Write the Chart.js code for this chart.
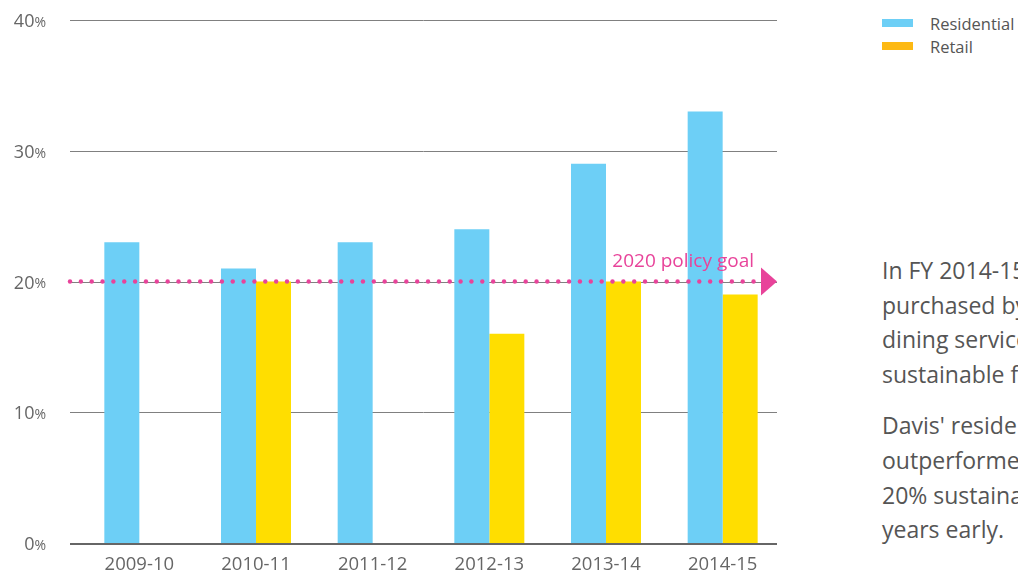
<!DOCTYPE html>
<html lang="en">
<head>
  <meta charset="utf-8" />
  <title>Sustainable food purchases</title>
  <script src="https://cdn.jsdelivr.net/npm/chart.js@4.4.0/dist/chart.umd.min.js"></script>
  <style>
    html, body { margin: 0; padding: 0; background: #fff; }
    body { width: 1018px; height: 580px; overflow: hidden; position: relative; font-family: "Open Sans", sans-serif; color: #555; }
    #chart-box { position: absolute; left: 0; top: 0; width: 790px; height: 580px; }
    #legend { position: absolute; left: 882px; top: 13px; font-size: 16.5px; }
    #legend .item { height: 23px; line-height: 22px; white-space: nowrap; }
    #legend .swatch { display: inline-block; width: 31px; height: 8px; margin-right: 17px; vertical-align: 3px; }
    #note { position: absolute; left: 882px; top: 253px; font-size: 23px; line-height: 34.6px; white-space: nowrap; }
    #note p { margin: 0 0 17px 0; }
  </style>
</head>
<body>
  <div id="chart-box"><canvas id="chart"></canvas></div>
  <div id="legend"></div>
  <div id="note">
    <p>In FY 2014-15, 33% of food<br>purchased by residential<br>dining services met<br>sustainable food criteria.</p>
    <p>Davis' residential dining<br>outperformed the UC<br>20% sustainable food goal five<br>years early.</p>
  </div>

  <script>
    // data
    const years = ["2009-10", "2010-11", "2011-12", "2012-13", "2013-14", "2014-15"];
    const residential = [23, 21, 23, 24, 29, 33];
    const retail = [null, 20, null, 16, 20, 19];
    const seriesNames = ["Residential", "Retail"];
    const yTicks = [0, 10, 20, 30, 40];
    const goalValue = 20;
    const goalLabel = "2020 policy goal";

    const barColors = ["#6dcff6", "#ffde00"];
    const legendColors = ["#6dcff6", "#fdb913"];
    const pink = "#e8439a";

    // rules run a little left of the bars
    const ruleLeft = 70, ruleRight = 777;

    // html legend
    const legend = document.getElementById("legend");
    seriesNames.forEach((name, i) => {
      const div = document.createElement("div");
      div.className = "item";
      div.innerHTML = '<span class="swatch" style="background:' + legendColors[i] + '"></span>' + name;
      legend.appendChild(div);
    });

    // grid lines, x axis line and y tick labels with a smaller % sign
    const rules = {
      id: "rules",
      beforeDatasetsDraw(chart) {
        const ctx = chart.ctx;
        const y = chart.scales.y;
        ctx.save();
        yTicks.forEach(v => {
          const py = Math.round(y.getPixelForValue(v));
          ctx.strokeStyle = v === 0 ? "#666" : "#808080";
          ctx.lineWidth = v === 0 ? 2 : 1;
          ctx.beginPath();
          ctx.moveTo(ruleLeft, v === 0 ? py + 1 : py + 0.5);
          ctx.lineTo(ruleRight, v === 0 ? py + 1 : py + 0.5);
          ctx.stroke();
        });
        ctx.restore();
      },
      afterDraw(chart) {
        const ctx = chart.ctx;
        const y = chart.scales.y;
        ctx.save();
        ctx.fillStyle = "#666";
        ctx.textBaseline = "middle";
        yTicks.forEach(v => {
          const py = y.getPixelForValue(v) + 2;
          ctx.font = "14px 'Open Sans'";
          ctx.textAlign = "right";
          ctx.fillText("%", 46, py + 1);
          const pw = ctx.measureText("%").width;
          ctx.font = "18px 'Open Sans'";
          ctx.fillText(String(v), 46 - pw, py);
        });
        ctx.restore();
      }
    };

    // dotted goal line with arrow and label
    const goalLine = {
      id: "goalLine",
      afterDatasetsDraw(chart) {
        const ctx = chart.ctx;
        const y = chart.scales.y.getPixelForValue(goalValue);
        const tip = ruleRight;
        ctx.save();
        ctx.fillStyle = pink;
        for (let x = ruleLeft; x < tip - 16; x += 10.85) {
          ctx.beginPath();
          ctx.arc(x, y, 2.2, 0, Math.PI * 2);
          ctx.fill();
        }
        ctx.beginPath();
        ctx.moveTo(tip - 16, y - 14);
        ctx.lineTo(tip, y);
        ctx.lineTo(tip - 16, y + 14);
        ctx.closePath();
        ctx.fill();
        ctx.font = "19px 'Open Sans'";
        ctx.textAlign = "right";
        ctx.textBaseline = "alphabetic";
        ctx.fillText(goalLabel, tip - 23, y - 15);
        ctx.restore();
      }
    };

    new Chart(document.getElementById("chart"), {
      type: "bar",
      data: {
        labels: years,
        datasets: [
          { label: seriesNames[0], data: residential, backgroundColor: barColors[0] },
          { label: seriesNames[1], data: retail, backgroundColor: barColors[1] }
        ]
      },
      plugins: [rules, goalLine],
      options: {
        responsive: true,
        maintainAspectRatio: false,
        animation: false,
        layout: { padding: { left: 0, right: 9, top: 20, bottom: 0 } },
        datasets: { bar: { categoryPercentage: 0.6, barPercentage: 1.0 } },
        plugins: {
          legend: { display: false },
          tooltip: { enabled: false }
        },
        scales: {
          x: {
            grid: { display: false, drawTicks: false },
            border: { display: false },
            ticks: { color: "#666", font: { family: "'Open Sans'", size: 18.5 }, padding: 11 },
            afterFit: s => { s.height = 37; }
          },
          y: {
            min: 0,
            max: 40,
            afterBuildTicks: s => { s.ticks = yTicks.map(v => ({ value: v })); },
            grid: { display: false },
            border: { display: false },
            ticks: { display: false },
            afterFit: s => { s.width = 81; }
          }
        }
      }
    });
  </script>
</body>
</html>
